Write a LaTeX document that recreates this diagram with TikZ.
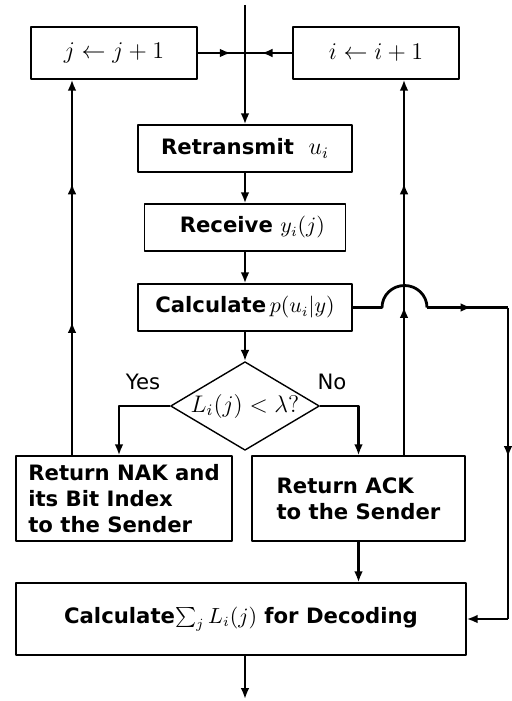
\documentclass[tikz,border=0pt]{standalone}
\usepackage{fontspec}
\setmainfont{DejaVu Sans}
\usetikzlibrary{shapes.geometric,arrows.meta,decorations.markings}

\begin{document}
\begin{tikzpicture}[x=0.5pt,y=-0.5pt, line join=round, >={Latex[length=5.5pt,width=4.4pt]},
  box/.style={draw, line width=0.7pt, inner sep=2pt, font=\fontsize{10.6}{13}\selectfont\bfseries},
  flow/.style={line width=1.4pt},
  midarr/.style={postaction={decorate},decoration={markings,mark=at position #1 with {\arrow{>}}}},
  twoarr/.style 2 args={postaction={decorate},decoration={markings,
    mark=at position #1 with {\arrow{>}},mark=at position #2 with {\arrow{>}}}}]
    \useasboundingbox (0,0) rectangle (512,701);
    % boxes
    \node[box, minimum width=83pt, minimum height=26pt, font=\fontsize{13}{15}\selectfont] (j) at (114,53) {$j \leftarrow j+1$};
    \node[box, minimum width=83pt, minimum height=26pt, font=\fontsize{13}{15}\selectfont] (i) at (376,53) {$i \leftarrow i+1$};
    \node[box, minimum width=107pt, minimum height=23.5pt] (retx) at (245,148.5) {Retransmit\ \ \large$u_i$};
    \node[box, minimum width=100.5pt, minimum height=23.5pt] (recv) at (245,227.5) {\ \ Receive $y_i(j)$};
    \node[box, minimum width=107pt, minimum height=23.5pt] (calc) at (245,307.5) {Calculate$\,p(u_i|y)$};
    \node[draw, diamond, line width=0.7pt, inner sep=0pt, aspect=1.68, minimum width=71.5pt, minimum height=42.5pt,
      font=\fontsize{11.5}{13}\selectfont] (dia) at (245,406) {$L_i(j) < \lambda?$};
    \node[font=\fontsize{10.6}{12}\selectfont] (yes) at (143,382) {Yes};
    \node[font=\fontsize{10.6}{12}\selectfont] (no) at (332,382) {No};
    \node[box, minimum width=108pt, minimum height=42.5pt, align=left] (nak) at (124,498.5) {Return NAK and\\its Bit Index\\to the Sender};
    \node[box, minimum width=106.5pt, minimum height=42.5pt, align=left] (ack) at (358.5,498.5) {Return ACK\\to the Sender};
    \node[box, minimum width=225pt, minimum height=36pt] (dec) at (241,619) {Calculate$\sum_j L_i(j)$ for Decoding};
    % helper coordinates
    \coordinate (top) at (245,5);
    \coordinate (bot) at (245,699);
    \coordinate (lx) at (72,0);
    \coordinate (ly) at (119,0);
    \coordinate (rx) at (404,0);
    \coordinate (jx) at (382,0);
    \coordinate (ox) at (508,0);
    % connectors
    \draw[flow,->] (top) -- (retx.north);
    \draw[flow,midarr=0.7] (j.east) -- (j.east -| top);
    \draw[flow,midarr=0.65] (i.west) -- (i.west -| top);
    \draw[flow,->] (retx) -- (recv);
    \draw[flow,->] (recv) -- (calc);
    \draw[flow,->] (calc) -- (dia);
    \draw[flow,->] (dia.west) -| (ly |- nak.north);
    \draw[flow,->] (dia.east) -| (ack.north);
    \draw[flow,twoarr={0.355}{0.724},->] (lx |- nak.north) -- (lx |- j.south);
    \draw[flow,twoarr={0.395}{0.724},->] (rx |- ack.north) -- (rx |- i.south);
    \draw[flow,->] (ack.south) -- (ack.south |- dec.north);
    % jump over the ACK line
    \draw[flow] (calc.east) -- (calc.east -| jx) arc[start angle=180, end angle=360, x radius=22.5, y radius=22] coordinate (jr);
    \draw[flow,midarr=0.55] (jr) -- (ox |- jr);
    \draw[flow,midarr=0.48] (ox |- jr) -- (ox |- dec.east);
    \draw[flow,->] (ox |- dec.east) -- (dec.east);
    \draw[flow,->] (dec.south -| top) -- (bot);
\end{tikzpicture}
\end{document}
